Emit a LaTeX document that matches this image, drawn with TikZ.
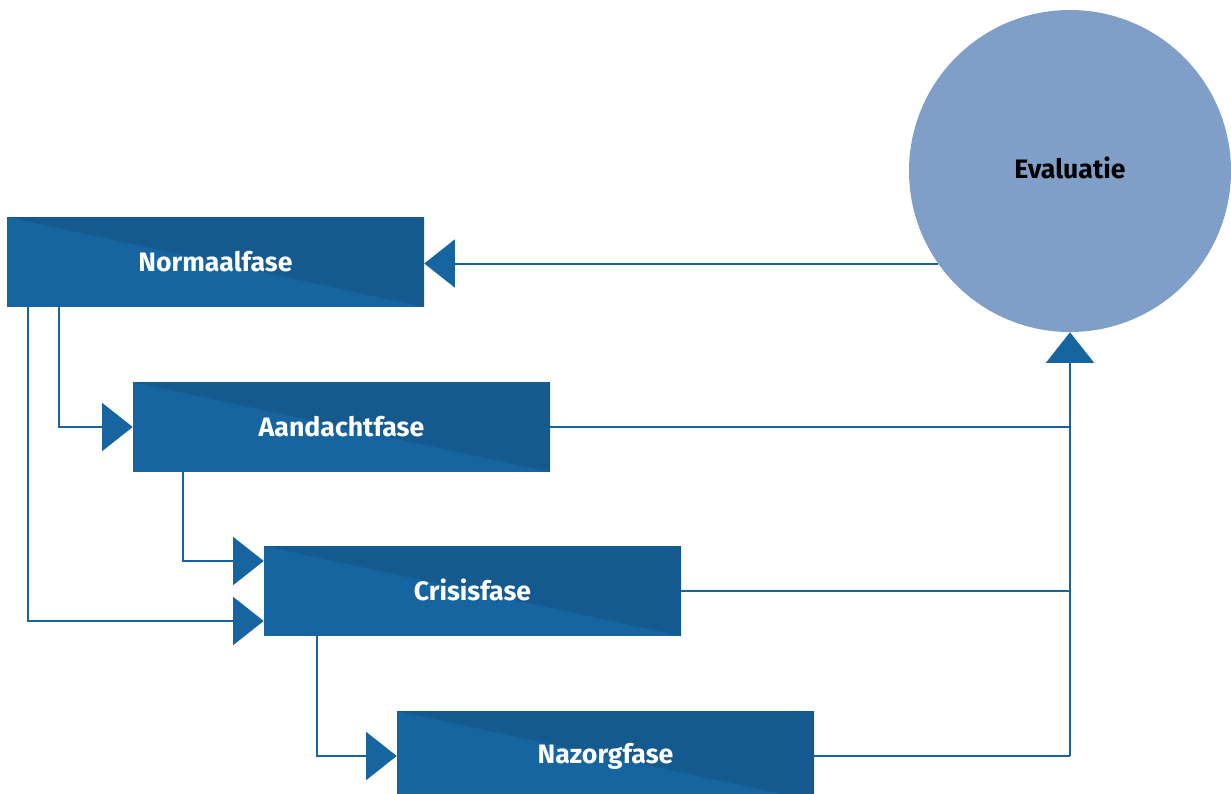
\documentclass[tikz,border=0pt]{standalone}
\usepackage{fontspec}
\setmainfont{Fira Sans}
\usetikzlibrary{arrows.meta}

\definecolor{boxlight}{RGB}{23,101,160}
\definecolor{boxdark}{RGB}{21,90,143}
\definecolor{evalfill}{RGB}{128,159,200}

\tikzset{
    phase/.style={minimum width=312.75pt, minimum height=67.5pt, inner sep=0pt,
        fill=boxlight, text=white, font=\fontsize{20}{24}\selectfont\bfseries,
        path picture={\fill[boxdark] (path picture bounding box.north west)
            -- (path picture bounding box.north east)
            -- (path picture bounding box.south east) -- cycle;}},
    flow/.style={draw=boxlight, line width=1.5pt,
        -{Triangle[length=23pt, width=36pt, fill=boxlight]}},
}

\begin{document}
\begin{tikzpicture}[x=0.75pt, y=-0.75pt]
    \def\bend{22.5pt} % offset of the two inputs into Crisisfase

    \useasboundingbox (0,0) rectangle (1231,793);

    % Circle
    \node[circle, fill=evalfill, minimum size=241.5pt, inner sep=0pt,
        font=\fontsize{20}{24}\selectfont\bfseries] (eval) at (1070, 171) {\raisebox{5pt}{Evaluatie}};

    % Phases
    \node[phase] (norm)   at (215.5, 262) {\raisebox{1.5pt}{Normaalfase}};
    \node[phase] (aand)   at (341.5, 427) {\raisebox{1.5pt}{Aandachtfase}};
    \node[phase] (crisis) at (472.5, 591) {\raisebox{1.5pt}{Crisisfase}};
    \node[phase] (nazorg) at (605.5, 756) {\raisebox{1.5pt}{Nazorgfase}};

    % Feedback into normal phase
    \draw[flow] (eval.215) -- (eval.215 -| norm.east);

    % Escalation
    \draw[flow] ([xshift=39pt]norm.south west) |- (aand.west);
    \draw[flow] ([xshift=15.75pt]norm.south west) |- ([yshift=-\bend]crisis.west);
    \draw[flow] ([xshift=37.5pt]aand.south west) |- ([yshift=\bend]crisis.west);
    \draw[flow] ([xshift=39.75pt]crisis.south west) |- (nazorg.west);

    % Towards evaluation
    \draw[draw=boxlight, line width=1.5pt] (aand.east) -- (aand.east -| eval.south);
    \draw[draw=boxlight, line width=1.5pt] (crisis.east) -- (crisis.east -| eval.south);
    \draw[draw=boxlight, line width=1.5pt] (nazorg.east) -- (nazorg.east -| eval.south);
    \draw[flow] (nazorg.east -| eval.south) -- (eval.south);
\end{tikzpicture}
\end{document}
